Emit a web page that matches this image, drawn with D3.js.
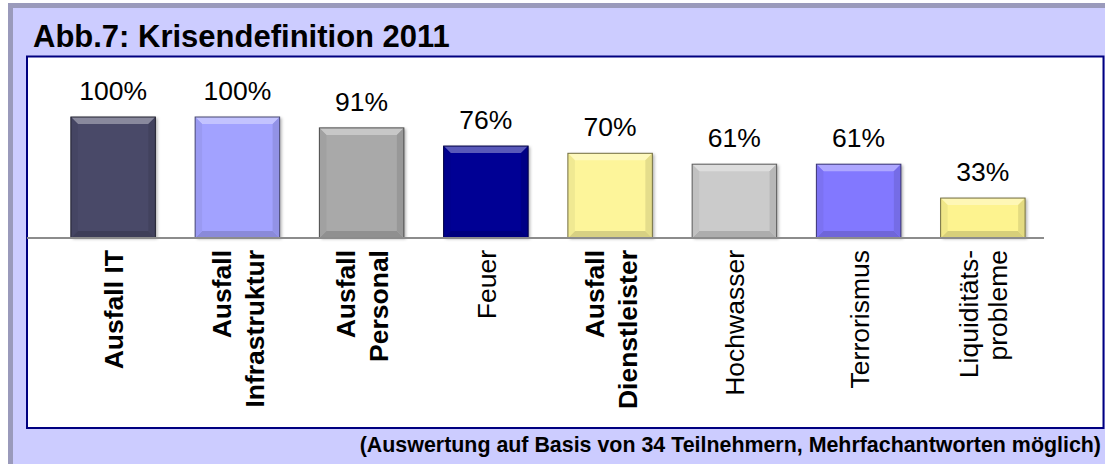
<!DOCTYPE html>
<html>
<head>
<meta charset="utf-8">
<script src="https://cdn.jsdelivr.net/npm/d3@7"></script>
<style>
  body { margin: 0; background: #fff; }
  svg { display: block; font-family: "Liberation Sans", Arial, sans-serif; }
</style>
</head>
<body>
<div id="chart"></div>
<script>
// data
const categories = ["Ausfall IT", "Ausfall Infrastruktur", "Ausfall Personal", "Feuer",
  "Ausfall Dienstleister", "Hochwasser", "Terrorismus", "Liquiditäts-probleme"];
const labelLines = [["Ausfall IT"], ["Ausfall", "Infrastruktur"], ["Ausfall", "Personal"], ["Feuer"],
  ["Ausfall", "Dienstleister"], ["Hochwasser"], ["Terrorismus"], ["Liquiditäts-", "probleme"]];
const boldLabel = [true, true, true, false, true, false, false, false];
const values = [100, 100, 91, 76, 70, 61, 61, 33];
const barColors = ["#494968", "#a2a2ff", "#a9a9a9", "#000094", "#fdf59a", "#cbcbcb", "#8278ff", "#fdf38f"];

const title = "Abb.7: Krisendefinition 2011";
const footnote = "(Auswertung auf Basis von 34 Teilnehmern, Mehrfachantworten möglich)";

const svgWidth = 1105, svgHeight = 464;
const baseY = 238, topY = 117;

const svg = d3.select("#chart").append("svg")
  .attr("width", svgWidth)
  .attr("height", svgHeight);

// frame: shadow band, lavender panel, white plot box
svg.append("rect").attr("x", 8).attr("y", 3).attr("width", svgWidth - 8).attr("height", svgHeight - 3)
  .attr("fill", "#9a9abb");
svg.append("rect").attr("x", 13).attr("y", 8).attr("width", svgWidth - 13).attr("height", svgHeight - 8)
  .attr("fill", "#ccccff");
svg.append("rect").attr("x", 27).attr("y", 56.5).attr("width", 1076.5).attr("height", 371.5)
  .attr("fill", "#fff").attr("stroke", "#000080").attr("stroke-width", 2);

svg.append("text")
  .attr("x", 33).attr("y", 47)
  .attr("font-size", 31).attr("font-weight", "bold").attr("fill", "#000")
  .text(title);

svg.append("text")
  .attr("x", 1101).attr("y", 451.5)
  .attr("text-anchor", "end")
  .attr("font-size", 21.4).attr("font-weight", "bold").attr("fill", "#000")
  .text(footnote);

const x = d3.scaleBand()
  .domain(categories)
  .range([51, 1045])
  .paddingInner(0.32)
  .paddingOuter(0.16);

const y = d3.scaleLinear()
  .domain([0, 100])
  .range([baseY, topY]);

const defs = svg.append("defs");
const shadow = defs.append("filter").attr("id", "shadow")
  .attr("x", "-10%").attr("y", "-10%").attr("width", "130%").attr("height", "130%");
shadow.append("feDropShadow").attr("dx", 2).attr("dy", 1).attr("stdDeviation", 1.5)
  .attr("flood-color", "#000").attr("flood-opacity", 0.3);

// bevelled bars
const bars = svg.append("g").selectAll("g")
  .data(categories)
  .join("g")
  .attr("transform", (d, i) => `translate(${x(d)},${y(values[i])})`);

bars.each(function(d, i) {
  const g = d3.select(this);
  const w = x.bandwidth();
  const h = baseY - y(values[i]);
  const c = d3.color(barColors[i]);
  const b = 7;
  g.append("rect").attr("width", w).attr("height", h).attr("fill", c.formatHex())
    .attr("filter", "url(#shadow)");
  g.append("path")
    .attr("d", `M0,0H${w}L${w - b},${b}H${b}Z`)
    .attr("fill", d3.interpolateRgb(c, "#fff")(0.35));
  g.append("path")
    .attr("d", `M0,${h}H${w}L${w - b},${h - b}H${b}Z`)
    .attr("fill", d3.interpolateRgb(c, "#000")(0.15));
  g.append("path")
    .attr("d", `M0,0L${b},${b}V${h - b}L0,${h}Z`)
    .attr("fill", d3.interpolateRgb(c, "#000")(0.05));
  g.append("path")
    .attr("d", `M${w},0L${w - b},${b}V${h - b}L${w},${h}Z`)
    .attr("fill", d3.interpolateRgb(c, "#000")(0.1));
  g.append("rect").attr("width", w).attr("height", h).attr("fill", "none")
    .attr("stroke", d3.interpolateRgb(c, "#000")(0.55)).attr("stroke-width", 1);
});

// value labels
svg.append("g").selectAll("text")
  .data(categories)
  .join("text")
  .attr("x", d => x(d) + x.bandwidth() / 2)
  .attr("y", (d, i) => y(values[i]) - 17)
  .attr("text-anchor", "middle")
  .attr("font-size", 26.5)
  .attr("fill", "#000")
  .text((d, i) => values[i] + "%");

// axis line
svg.append("line")
  .attr("x1", 27).attr("x2", 1044)
  .attr("y1", baseY).attr("y2", baseY)
  .attr("stroke", "#8c8c8c").attr("stroke-width", 2);

// rotated category labels
const labels = svg.append("g").selectAll("text")
  .data(categories)
  .join("text")
  .attr("transform", d => `translate(${x(d) + x.bandwidth() / 2},250) rotate(-90)`)
  .attr("text-anchor", "end")
  .attr("font-size", 26.5)
  .attr("font-weight", (d, i) => boldLabel[i] ? "bold" : "normal")
  .attr("fill", "#000");

labels.each(function(d, i) {
  const lines = labelLines[i];
  const gap = boldLabel[i] ? 33 : 29;
  const start = 10 - gap * (lines.length - 1) / 2;
  d3.select(this).selectAll("tspan")
    .data(lines)
    .join("tspan")
    .attr("x", 0)
    .attr("y", (l, j) => start + j * gap)
    .text(l => l);
});
</script>
</body>
</html>
